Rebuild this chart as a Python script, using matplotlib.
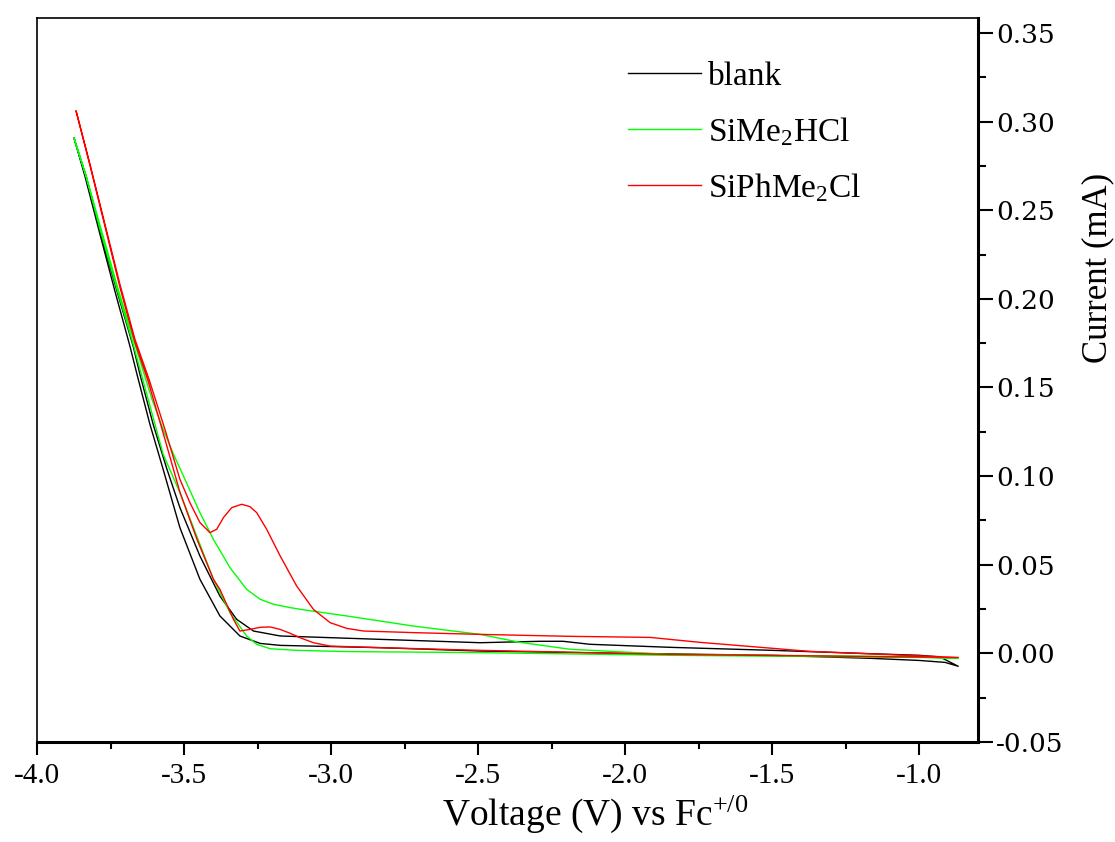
import matplotlib
matplotlib.use("Agg")
import matplotlib.pyplot as plt
from matplotlib.ticker import MultipleLocator, FormatStrFormatter

plt.rcParams['font.family'] = ['Liberation Serif', 'DejaVu Serif']
plt.rcParams['mathtext.fontset'] = 'custom'
plt.rcParams['mathtext.rm'] = 'Liberation Serif'
plt.rcParams['mathtext.it'] = 'Liberation Serif'
plt.rcParams['axes.unicode_minus'] = False

# cyclic voltammograms: each scan split in two branches
# (V vs Fc+/0, current in mA)
blank_low_v = [-3.874, -3.837, -3.786, -3.735, -3.684, -3.660, -3.616, -3.571, -3.537,
               -3.514, -3.446, -3.378, -3.310, -3.241, -3.173, -2.833, -2.493,
               -2.0, -1.5, -1.167, -1.0, -0.912, -0.867]
blank_low_i = [0.2906, 0.2692, 0.2365, 0.2043, 0.1733, 0.1574, 0.1292, 0.1038, 0.0841,
               0.0709, 0.0418, 0.0211, 0.0098, 0.0056, 0.0045, 0.0032, 0.0013,
               0.0, -0.0011, -0.0028, -0.0040, -0.0051, -0.0073]
blank_up_v = [-3.874, -3.833, -3.782, -3.728, -3.673, -3.650, -3.605, -3.558, -3.514,
              -3.446, -3.378, -3.321, -3.264, -3.173, -2.833, -2.493, -2.289,
              -2.211, -2.119, -1.847, -1.5, -1.2, -1.0, -0.93, -0.867]
blank_up_i = [0.2906, 0.2692, 0.2365, 0.2043, 0.1733, 0.1574, 0.1292, 0.1038, 0.0822,
              0.0549, 0.0323, 0.0192, 0.0126, 0.0098, 0.0079, 0.0060, 0.0068,
              0.0068, 0.0051, 0.0034, 0.0017, 0.0, -0.0011, -0.0020, -0.0073]

hcl_up_v = [-3.874, -3.833, -3.782, -3.724, -3.667, -3.609, -3.571, -3.535, -3.497,
            -3.446, -3.400, -3.344, -3.287, -3.241, -3.196, -3.139, -3.083, -2.947,
            -2.720, -2.493, -2.357, -2.187, -1.847, -1.5, -1.0, -0.867]
hcl_up_i = [0.2906, 0.2692, 0.2393, 0.2054, 0.1744, 0.1433, 0.1264, 0.1120, 0.0982,
            0.0794, 0.0643, 0.0484, 0.0361, 0.0305, 0.0277, 0.0258, 0.0243, 0.0211,
            0.0154, 0.0107, 0.0062, 0.0023, -0.0006, -0.0011, -0.0020, -0.0028]
hcl_low_v = [-3.874, -3.833, -3.786, -3.728, -3.673, -3.622, -3.571, -3.514, -3.457,
             -3.400, -3.344, -3.287, -3.253, -3.207, -3.117, -2.947, -2.493, -1.847,
             -1.0, -0.867]
hcl_low_i = [0.2906, 0.2692, 0.2393, 0.2054, 0.1744, 0.1433, 0.1123, 0.0907, 0.0662,
             0.0418, 0.0230, 0.0098, 0.0051, 0.0026, 0.0017, 0.0010, 0.0004, -0.0011,
             -0.0023, -0.0028]

ph_up_v = [-3.867, -3.820, -3.769, -3.718, -3.667, -3.619, -3.565, -3.514, -3.480,
           -3.446, -3.412, -3.389, -3.366, -3.338, -3.304, -3.276, -3.253, -3.219,
           -3.173, -3.117, -3.060, -3.003, -2.947, -2.890, -2.720, -2.493, -2.187,
           -1.915, -1.745, -1.371, -0.867]
ph_up_i = [0.3059, 0.2760, 0.2421, 0.2082, 0.1772, 0.1546, 0.1264, 0.0982, 0.0850,
           0.0738, 0.0681, 0.0700, 0.0766, 0.0822, 0.0841, 0.0828, 0.0794, 0.0700,
           0.0549, 0.0380, 0.0248, 0.0173, 0.0141, 0.0126, 0.0117, 0.0107, 0.0096,
           0.0090, 0.0062, 0.0011, -0.0023]
ph_low_v = [-3.867, -3.820, -3.769, -3.718, -3.667, -3.622, -3.565, -3.514, -3.456,
            -3.400, -3.378, -3.332, -3.310, -3.276, -3.241, -3.207, -3.173, -3.139,
            -3.105, -3.060, -3.003, -2.833, -2.493, -1.847, -0.867]
ph_low_i = [0.3059, 0.2754, 0.2410, 0.2065, 0.1755, 0.1535, 0.1208, 0.0909, 0.0643,
            0.0418, 0.0361, 0.0192, 0.0126, 0.0135, 0.0147, 0.0149, 0.0135, 0.0113,
            0.0088, 0.0060, 0.0041, 0.0032, 0.0017, -0.0006, -0.0023]

labels = ['blank', r'SiMe$_2$HCl', r'SiPhMe$_2$Cl']
colors = ['black', '#00ff00', '#ff0000']


def loop(v1, i1, v2, i2):
    # forward branch then the return branch back to the start
    return v1 + v2[::-1], i1 + i2[::-1]


fig = plt.figure(figsize=(11.15, 8.42), dpi=100)
ax = fig.add_axes([0.0332, 0.1188, 0.8439, 0.8599])

curves = [loop(blank_low_v, blank_low_i, blank_up_v, blank_up_i),
          loop(hcl_low_v, hcl_low_i, hcl_up_v, hcl_up_i),
          loop(ph_low_v, ph_low_i, ph_up_v, ph_up_i)]
for (v, i), lab, c in zip(curves, labels, colors):
    ax.plot(v, i, color=c, lw=1.0, label=lab)

ax.set_xlim(-4.0, -0.8)
ax.set_ylim(-0.05, 0.3585)

ax.xaxis.set_major_locator(MultipleLocator(0.5))
ax.xaxis.set_minor_locator(MultipleLocator(0.25))
ax.xaxis.set_major_formatter(FormatStrFormatter('%.1f'))
ax.yaxis.set_major_locator(MultipleLocator(0.05))
ax.yaxis.set_minor_locator(MultipleLocator(0.025))
ax.yaxis.set_major_formatter(FormatStrFormatter('%.2f'))
ax.yaxis.tick_right()
ax.yaxis.set_label_position('right')

ax.tick_params(axis='x', which='major', direction='out', length=9, width=1.5,
               labelsize=21, pad=6, top=False)
ax.tick_params(axis='x', which='minor', direction='out', length=5, width=1.5, top=False)
ax.tick_params(axis='y', which='major', direction='out', length=11, width=1.5,
               labelsize=19, pad=2, left=False)
ax.tick_params(axis='y', which='minor', direction='out', length=6, width=1.5, left=False)
for t in ax.get_yticklabels():
    t.set_fontfamily('DejaVu Serif')

for s in ['left', 'top']:
    ax.spines[s].set_linewidth(1.2)
for s in ['right', 'bottom']:
    ax.spines[s].set_linewidth(2.2)

ax.set_xlabel(r'Voltage (V) vs Fc$^{+/0}$', fontsize=27)
ax.xaxis.set_label_coords(0.593, -0.072)
ax.set_ylabel('Current (mA)', fontsize=25)
ax.yaxis.set_label_coords(1.11, 0.655)

ax.legend(loc='upper left', bbox_to_anchor=(0.628, 0.94), frameon=False,
          fontsize=24, handlelength=2.2, handletextpad=0.2, labelspacing=0.7,
          borderpad=0, borderaxespad=0)

fig.savefig('out.png', dpi=100)
